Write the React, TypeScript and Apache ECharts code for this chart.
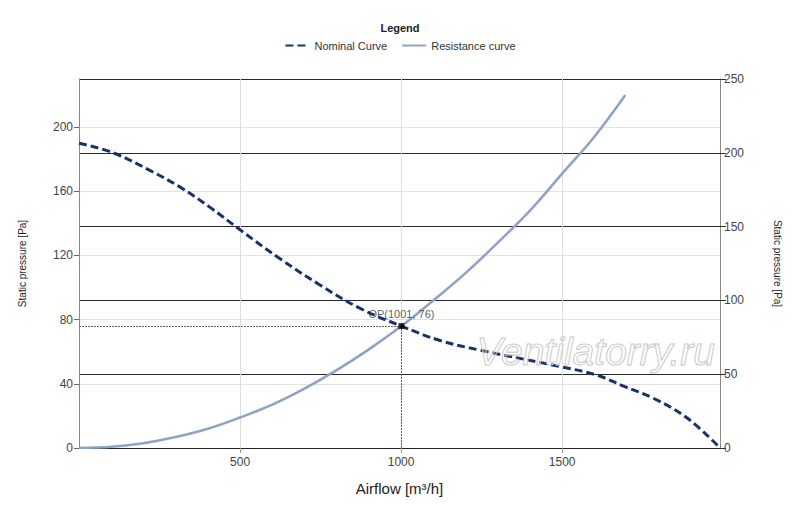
import React, { useEffect, useRef } from "react";
import * as echarts from "echarts";

const nominalX = [0, 106, 220, 314, 407, 500, 624, 748, 873, 1001, 1121, 1245, 1494, 1606, 1690, 1783, 1888, 1990];
const nominalY = [190, 184, 173, 162.6, 150, 136, 118, 101.6, 87, 76, 67, 61, 50.7, 45.5, 38.6, 31, 18.7, 0];

const resistX = [0, 100, 200, 300, 400, 500, 600, 700, 800, 900, 1001, 1100, 1200, 1300, 1400, 1500, 1600, 1696];
const resistY = [0, 0.8, 3, 6.8, 12, 19, 27, 37, 48.5, 61.5, 76, 92, 109, 128, 148, 171, 194, 220];

const opPoint = [1001, 76];
const seriesNames = ["Nominal Curve", "Resistance curve"];
const leftTicks = { min: 0, max: 230, interval: 40 };
const rightTicks = { min: 0, max: 250, interval: 50 };
const xTicks = { min: 0, max: 1990, interval: 500 };

const FONT = "'Liberation Sans', Arial, sans-serif";

export default function App() {
  const ref = useRef<HTMLDivElement>(null);
  useEffect(() => {
    document.body.style.margin = "0";
    const chart = echarts.init(ref.current!, null, { renderer: "svg" });
    const nominal = nominalX.map((x, i) => [x, nominalY[i]]);
    const resist = resistX.map((x, i) => [x, resistY[i]]);
    chart.setOption({
      animation: false,
      backgroundColor: "#ffffff",
      textStyle: { fontFamily: FONT },
      title: {
        text: "Legend",
        left: "center",
        top: 17,
        textStyle: { fontSize: 11, fontWeight: "bold", color: "#222", fontFamily: FONT },
      },
      legend: {
        data: seriesNames,
        top: 35,
        left: "center",
        itemWidth: 24,
        itemHeight: 10,
        itemGap: 14,
        itemStyle: { opacity: 0 },
        textStyle: { fontSize: 11, color: "#333", fontFamily: FONT },
      },
      grid: { left: 79, right: 80, top: 79, bottom: 59, containLabel: false },
      xAxis: {
        type: "value",
        min: xTicks.min,
        max: xTicks.max,
        interval: xTicks.interval,
        name: "Airflow [m³/h]",
        nameLocation: "middle",
        nameGap: 33,
        nameTextStyle: { fontSize: 15, color: "#222", fontFamily: FONT },
        axisLine: { show: true, lineStyle: { color: "#222", width: 1 } },
        axisTick: { show: true, length: 5, lineStyle: { color: "#999" } },
        axisLabel: {
          showMinLabel: false,
          showMaxLabel: false,
          fontSize: 12,
          color: "#444",
          margin: 8,
          fontFamily: FONT,
          formatter: (v: number) => String(v),
        },
        splitLine: { show: true, lineStyle: { color: "#dddddd", width: 1 } },
      },
      yAxis: [
        {
          type: "value",
          position: "left",
          min: leftTicks.min,
          max: leftTicks.max,
          interval: leftTicks.interval,
          name: "Static pressure [Pa]",
          nameLocation: "middle",
          nameGap: 52,
          nameRotate: 90,
          nameTextStyle: { fontSize: 10, color: "#222", fontFamily: FONT },
          axisLine: { show: true, lineStyle: { color: "#888", width: 1 } },
          axisTick: { show: true, length: 5, lineStyle: { color: "#666" } },
          axisLabel: { showMaxLabel: false, fontSize: 12, color: "#444", margin: 6, fontFamily: FONT },
          splitLine: { show: true, lineStyle: { color: "#e2e2e2", width: 1 } },
        },
        {
          type: "value",
          position: "right",
          min: rightTicks.min,
          max: rightTicks.max,
          interval: rightTicks.interval,
          name: "Static pressure [Pa]",
          nameLocation: "middle",
          nameGap: 52,
          nameRotate: -90,
          nameTextStyle: { fontSize: 10, color: "#222", fontFamily: FONT },
          axisLine: { show: true, lineStyle: { color: "#888", width: 1 } },
          axisTick: { show: true, length: 6, lineStyle: { color: "#333" } },
          axisLabel: { fontSize: 12, color: "#444", margin: 4, fontFamily: FONT },
          splitLine: { show: true, lineStyle: { color: "#2a2a2a", width: 1 } },
        },
      ],
      series: [
        {
          name: seriesNames[0],
          type: "line",
          yAxisIndex: 0,
          data: nominal,
          smooth: 0.4,
          symbol: "none",
          lineStyle: { color: "#17336b", width: 3, type: [8, 4] },
          itemStyle: { color: "#17336b" },
          z: 5,
        },
        {
          name: seriesNames[1],
          type: "line",
          yAxisIndex: 0,
          data: resist,
          smooth: 0.4,
          symbol: "none",
          lineStyle: { color: "#8ea4c4", width: 2.6 },
          itemStyle: { color: "#8ea4c4" },
          z: 4,
        },
        {
          name: "OP",
          type: "scatter",
          yAxisIndex: 0,
          data: [opPoint],
          symbol: "rect",
          symbolSize: 6,
          itemStyle: { color: "#000" },
          label: {
            show: true,
            position: "top",
            distance: 4,
            formatter: () => `OP(${opPoint[0]}, ${opPoint[1]})`,
            fontSize: 11,
            color: "#333",
            fontFamily: FONT,
          },
          z: 6,
          markLine: {
            silent: true,
            symbol: "none",
            label: { show: false },
            lineStyle: { color: "#666", width: 1, type: [2, 1] },
            data: [
              [{ coord: [0, opPoint[1]] }, { coord: [opPoint[0], opPoint[1]] }],
              [{ coord: [opPoint[0], 0] }, { coord: [opPoint[0], opPoint[1]] }],
            ],
          },
        },
      ],
      graphic: [
        {
          type: "text",
          left: 476,
          top: 331,
          z: 10,
          silent: true,
          style: {
            text: "Ventilatorry.ru",
            font: `italic 39px ${FONT}`,
            fill: "rgba(255,255,255,0.2)",
            stroke: "#c4c4c4",
            lineWidth: 1,
          },
        },
      ],
    });
    return () => chart.dispose();
  }, []);
  return <div ref={ref} style={{ width: 800, height: 507 }} />;
}
